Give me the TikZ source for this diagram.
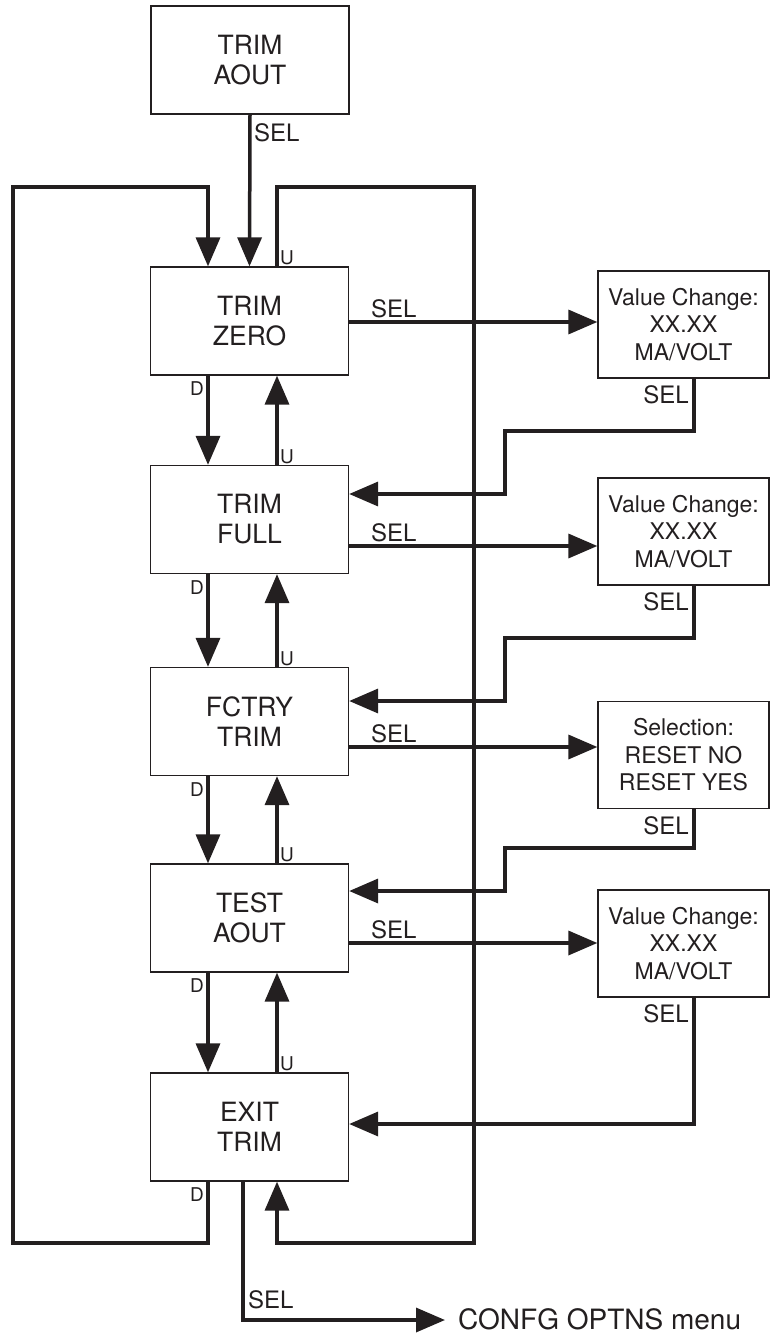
\documentclass[tikz,border=0pt]{standalone}
\usepackage{fontspec}
\setmainfont{TeX Gyre Heros}
\usetikzlibrary{arrows.meta}
\definecolor{ink}{HTML}{231F20}
\begin{document}
\begin{tikzpicture}[x=1pt,y=-1pt,
  menubox/.style={draw=ink,line width=1.3pt,minimum width=198pt,minimum height=108pt,inner sep=0pt,
    align=center,text=ink,font=\fontsize{26.5}{30}\selectfont},
  valbox/.style={draw=ink,line width=1.3pt,minimum width=171pt,minimum height=107pt,inner sep=0pt,
    align=center,text=ink,font=\fontsize{23}{27.5}\selectfont},
  conn/.style={draw=ink,line width=3.5pt},
  tip/.style={-{Triangle[length=29pt,width=24pt]}},
  sellbl/.style={text=ink,inner sep=1pt,font=\fontsize{24}{24}\selectfont},
  udlbl/.style={text=ink,inner sep=1pt,font=\fontsize{19}{19}\selectfont}]
\useasboundingbox (0,0) rectangle (770,1333);

% left column
\node[menubox] (aout)  at (250,60)     {TRIM\\AOUT};
\node[menubox] (zero)  at (249.5,321)  {TRIM\\ZERO};
\node[menubox] (full)  at (249.5,519.5){TRIM\\FULL};
\node[menubox] (fctry) at (249.5,721.5){FCTRY\\TRIM};
\node[menubox] (test)  at (249.5,918)  {TEST\\AOUT};
\node[menubox] (exit)  at (249.5,1127) {EXIT\\TRIM};

% right column
\node[valbox] (v1) at (683.5,324.5) {Value Change:\\XX.XX\\MA/VOLT};
\node[valbox] (v2) at (683.5,531.5) {Value Change:\\XX.XX\\MA/VOLT};
\node[valbox] (v3) at (683.5,755)   {Selection:\\RESET NO\\RESET YES};
\node[valbox] (v4) at (683.5,943.5) {Value Change:\\XX.XX\\MA/VOLT};

% helper coordinates
\coordinate (Dx) at (208,0);
\coordinate (Ux) at (277,0);
\coordinate (Rx) at (694,0);
\coordinate (lt) at (13,187);
\coordinate (lb) at (13,1243);
\coordinate (rt) at (474,187);
\coordinate (rb) at (474,1243);
\coordinate (s1) at (0,322);
\coordinate (s2) at (0,546);
\coordinate (s3) at (0,747);
\coordinate (s4) at (0,943);
\coordinate (r1) at (0,494);
\coordinate (r2) at (0,701);
\coordinate (r3) at (0,891);
\coordinate (r4) at (0,1124);
\coordinate (j1) at (505,431);
\coordinate (j2) at (505,638);
\coordinate (j3) at (505,848);
\coordinate (cf) at (445,1320);

% entry
\draw[conn,tip] (aout.south) -- (zero.north);
\node[sellbl,anchor=west] at (253,133) {SEL};

% outer loops
\draw[conn,tip] (exit.south -| Dx) |- (lb) |- (lt) -| (zero.north -| Dx);
\draw[conn,tip] (zero.north -| Ux) |- (rt) |- (rb) -| (exit.south -| Ux);

% D / U arrows
\foreach \a/\b in {zero/full,full/fctry,fctry/test,test/exit}{
  \draw[conn,tip] (\a.south -| Dx) -- (\b.north -| Dx);
  \draw[conn,tip] (\b.north -| Ux) -- (\a.south -| Ux);
}
\foreach \b in {zero,full,fctry,test,exit}{
  \node[udlbl,anchor=south west] at ([xshift=2pt]\b.north -| Ux) {U};
}
\foreach \b in {zero,full,fctry,test,exit}{
  \node[udlbl,anchor=north east] at ([xshift=-3pt,yshift=-5pt]\b.south -| Dx) {D};
}

% SEL arrows to value boxes
\draw[conn,tip] (zero.east |- s1) -- (v1.west |- s1);
\draw[conn,tip] (full.east |- s2) -- (v2.west |- s2);
\draw[conn,tip] (fctry.east |- s3) -- (v3.west |- s3);
\draw[conn,tip] (test.east |- s4) -- (v4.west |- s4);
\foreach \y in {s1,s2,s3,s4}{
  \node[sellbl,anchor=south west] at ([yshift=3pt]370,0 |- \y) {SEL};
}

% returns
\draw[conn,tip] (v1.south -| Rx) |- (j1) |- (full.east |- r1);
\draw[conn,tip] (v2.south -| Rx) |- (j2) |- (fctry.east |- r2);
\draw[conn,tip] (v3.south -| Rx) |- (j3) |- (test.east |- r3);
\draw[conn,tip] (v4.south -| Rx) |- (exit.east |- r4);
\foreach \v in {v1,v2,v3,v4}{
  \node[sellbl,anchor=north east] at ([xshift=-4pt,yshift=-6pt]\v.south -| Rx) {SEL};
}

% exit SEL
\coordinate (ex) at (243,0);
\draw[conn,tip] (exit.south -| ex) |- (cf);
\node[sellbl,anchor=south west] at ([xshift=4pt,yshift=10pt]ex |- cf) {SEL};
\node[text=ink,anchor=base west,inner sep=0pt,font=\fontsize{28}{28}\selectfont] (cfg) at ([xshift=13pt,yshift=-9.5pt]cf) {CONFG OPTNS menu};
\end{tikzpicture}
\end{document}
